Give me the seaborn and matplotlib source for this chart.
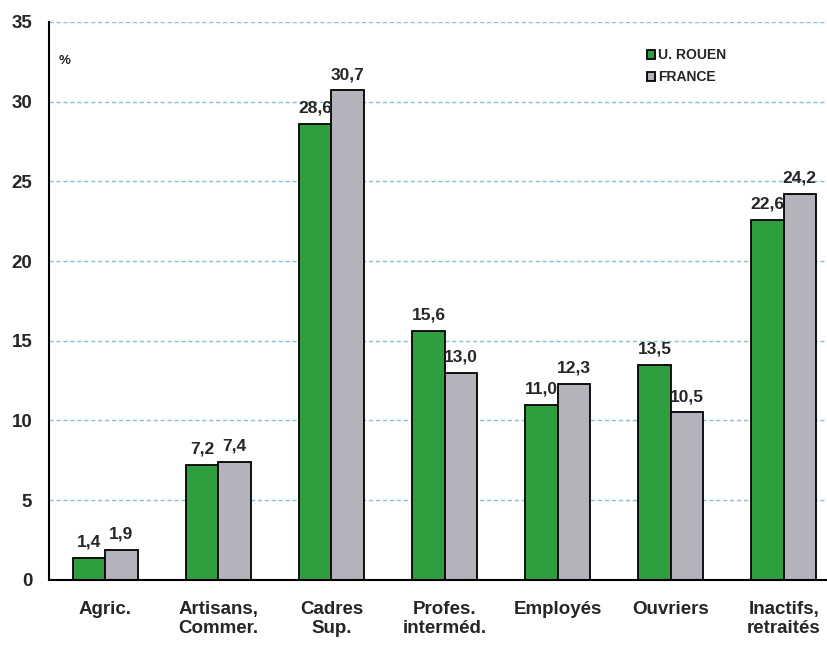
import numpy as np
import pandas as pd
import matplotlib
matplotlib.use("Agg")
import matplotlib.pyplot as plt
import seaborn as sns

categories = ["Agric.", "Artisans,\nCommer.", "Cadres\nSup.", "Profes.\ninterméd.",
              "Employés", "Ouvriers", "Inactifs,\nretraités"]
rouen = [1.4, 7.2, 28.6, 15.6, 11.0, 13.5, 22.6]
france = [1.9, 7.4, 30.7, 13.0, 12.3, 10.5, 24.2]
series = ["U. ROUEN", "FRANCE"]
colors = ["#2e9e3e", "#b3b4bb"]

df = pd.DataFrame({
    "cat": categories * 2,
    "serie": [series[0]] * len(categories) + [series[1]] * len(categories),
    "val": rouen + france,
})

sns.set_style("white")
plt.rcParams["font.family"] = ["Liberation Sans", "DejaVu Sans"]

fig = plt.figure(figsize=(8.27, 6.45), dpi=100)
ax = fig.add_axes([0.059, 0.101, 0.957, 0.865])

sns.barplot(data=df, x="cat", y="val", hue="serie", palette=colors, width=0.57,
            edgecolor="black", linewidth=1.3, saturation=1, ax=ax, legend=True)

for cont, vals in zip(ax.containers, [rouen, france]):
    ax.bar_label(cont, labels=[f"{v:.1f}".replace(".", ",") for v in vals],
                 padding=6, fontsize=12.5, fontweight="bold")

ax.set_ylim(0, 35)
ax.set_xlim(-0.5, 6.5)
ax.set_yticks(range(0, 36, 5))
ax.yaxis.grid(True, color="#86c0dc", linestyle=(0, (3, 2)), linewidth=1)
ax.set_axisbelow(True)

# ticks between groups, labels centred under each group
ax.set_xticks(np.arange(-0.5, 7, 1.0))
ax.set_xticklabels([])
ax.set_xticks(np.arange(0, 7), minor=True)
ax.set_xticklabels(categories, minor=True, fontsize=13.5, fontweight="bold",
                   linespacing=1.15)
ax.tick_params(axis="x", which="major", length=6, width=1.2, color="black", direction="out")
ax.tick_params(axis="x", which="minor", length=0, pad=15)
ax.tick_params(axis="y", length=5, width=1.2, color="black", direction="out",
               labelsize=13.5, pad=7)
for lbl in ax.get_yticklabels():
    lbl.set_fontweight("bold")

for side in ["top", "right"]:
    ax.spines[side].set_visible(False)
for side in ["left", "bottom"]:
    ax.spines[side].set_color("black")
    ax.spines[side].set_linewidth(1.5)

ax.set_xlabel("")
ax.set_ylabel("")
ax.text(0.012, 0.925, "%", transform=ax.transAxes, fontsize=9.5, fontweight="bold")

leg = ax.legend(loc="upper left", bbox_to_anchor=(0.74, 0.975), frameon=False,
                handlelength=0.6, handleheight=0.6, handletextpad=0.2,
                labelspacing=0.55, prop={"size": 10, "weight": "bold"})

fig.savefig("out.png", dpi=100)
